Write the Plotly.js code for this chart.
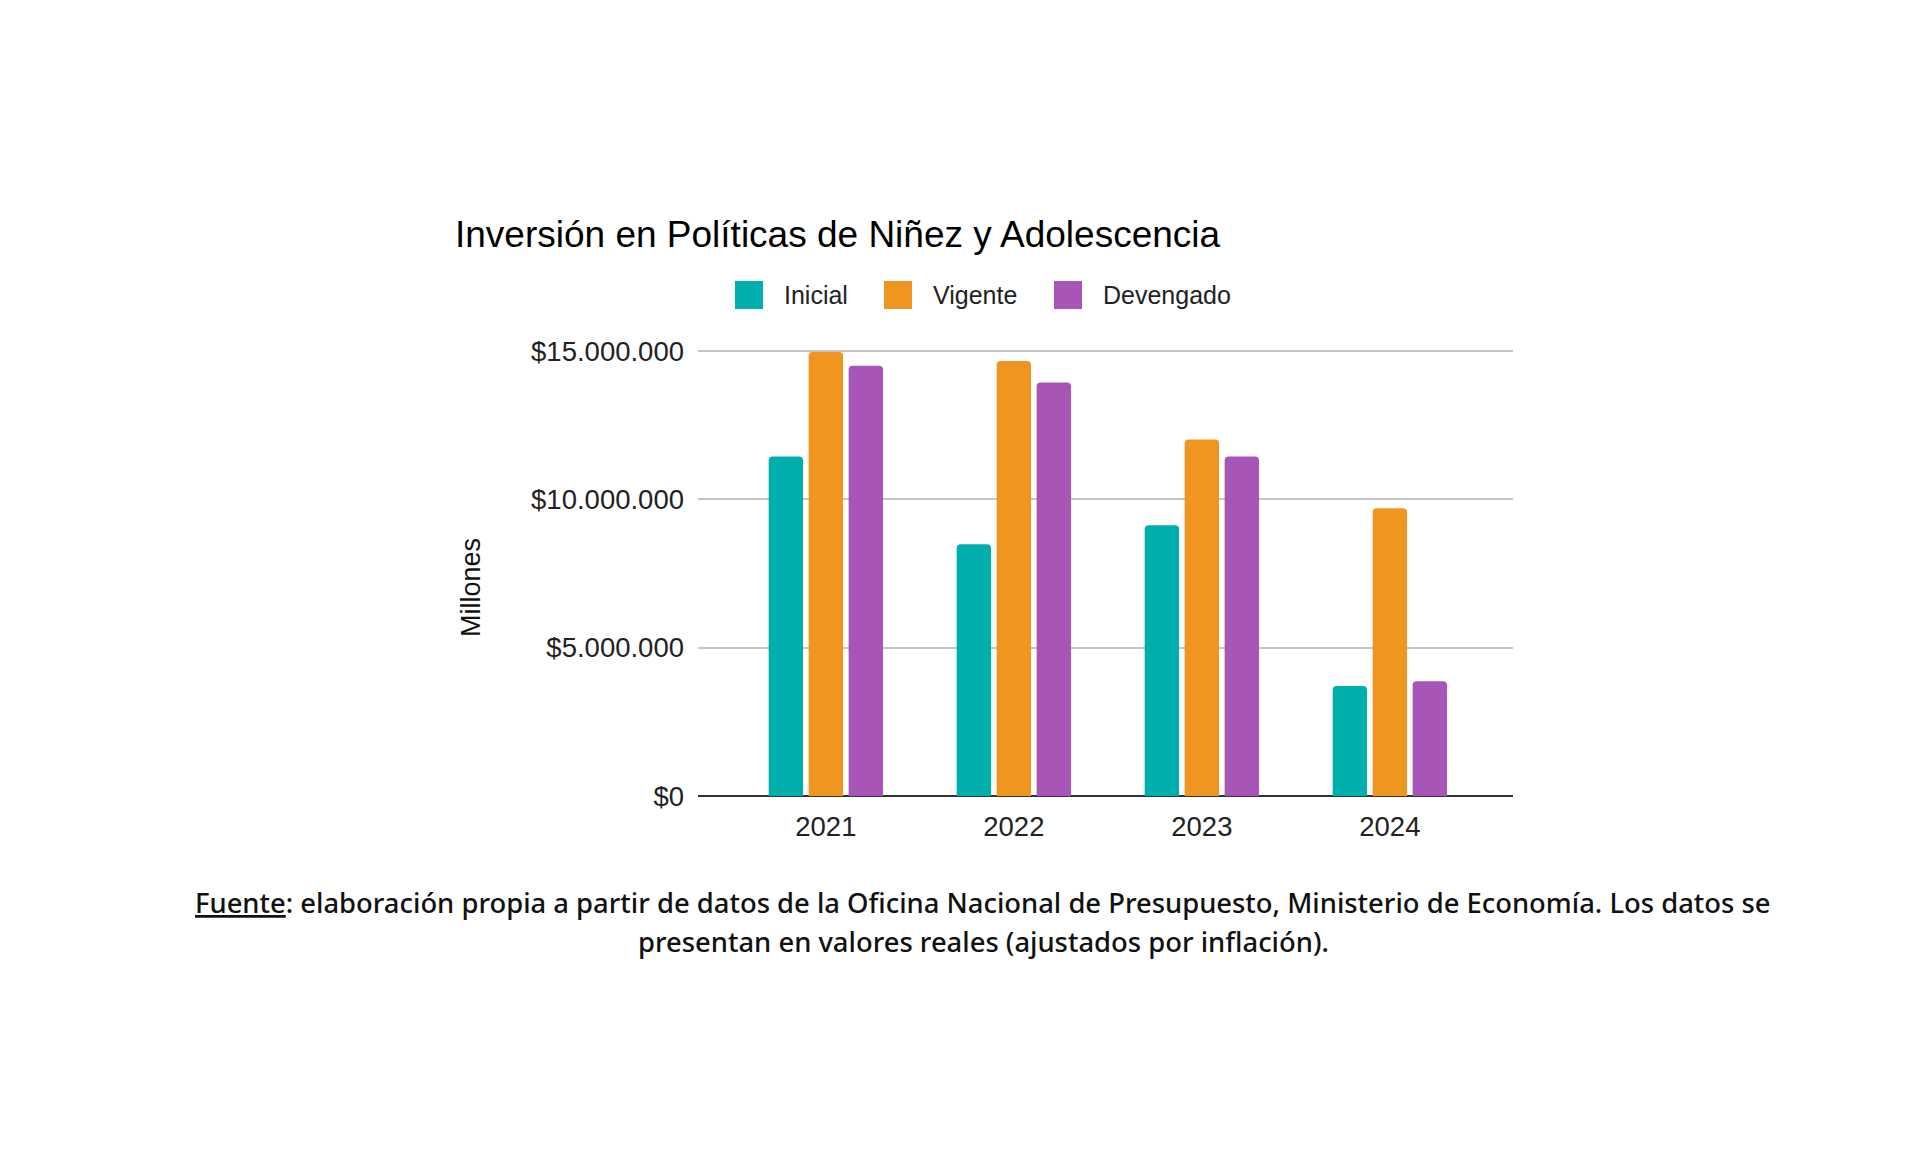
<!DOCTYPE html>
<html>
<head>
<meta charset="utf-8">
<script src="https://cdn.plot.ly/plotly-3.0.1.min.js"></script>
<style>
  html, body { margin: 0; padding: 0; background: #ffffff; }
  #chart { width: 1920px; height: 1167px; }
</style>
</head>
<body>
<div id="chart"></div>
<script>
// ---- Data ----
const years = ['2021', '2022', '2023', '2024'];
const inicial = [11440000, 8490000, 9130000, 3710000];
const vigente = [14970000, 14660000, 12020000, 9700000];
const devengado = [14500000, 13940000, 11440000, 3870000];
const seriesNames = ['Inicial', 'Vigente', 'Devengado'];
const yTickVals = [0, 5000000, 10000000, 15000000];
const yTickText = ['$0', '$5.000.000', '$10.000.000', '$15.000.000'];
const chartTitle = 'Inversión en Políticas de Niñez y Adolescencia';
const yTitle = 'Millones';
const noteLine1 = '<u>Fuente</u>: elaboración propia a partir de datos de la Oficina Nacional de Presupuesto, Ministerio de Economía. Los datos se';
const noteLine2 = 'presentan en valores reales (ajustados por inflación).';

// ---- Styles / layout ----
const colors = ['#00AFAC', '#F0951F', '#A855B8'];
const W = 1920, Hh = 1167;
const L = 698, R = 407, T = 348, Bm = 371;
const PW = W - L - R, PH = Hh - T - Bm;
const bottomPx = Hh - Bm;
const pxPerUnit = 445 / 15000000;          // 15M spans 445 px
const yMax = PH / pxPerUnit;                // small headroom so the top gridline is drawn
const px2x = px => (px - L) / PW;
const py2y = py => (bottomPx - py) / PH;
const baseFont = 'Liberation Sans, Arial, sans-serif';

const seriesValues = [inicial, vigente, devengado];
const traces = seriesValues.map((vals, i) => ({
  type: 'bar',
  name: seriesNames[i],
  x: years,
  y: vals,
  marker: { color: colors[i], line: { width: 0 }, cornerradius: 4 },
  showlegend: false,
  hoverinfo: 'skip'
}));

// Manual legend (large square swatches)
const legendLeft = [735, 884, 1054];
const sw = 28, legendCy = 295;
const shapes = [];
const annotations = [];
seriesNames.forEach((n, i) => {
  shapes.push({
    type: 'rect', xref: 'paper', yref: 'paper',
    x0: px2x(legendLeft[i]), x1: px2x(legendLeft[i] + sw),
    y0: py2y(legendCy + sw / 2), y1: py2y(legendCy - sw / 2),
    fillcolor: colors[i], line: { width: 0 }, layer: 'above'
  });
  annotations.push({
    xref: 'paper', yref: 'paper',
    x: px2x(legendLeft[i] + 47), y: py2y(legendCy),
    xanchor: 'left', yanchor: 'middle', showarrow: false,
    text: n, font: { family: baseFont, size: 25, color: '#222222' }
  });
});

// y-axis title
annotations.push({
  xref: 'paper', yref: 'paper',
  x: px2x(471), y: py2y(588),
  xanchor: 'center', yanchor: 'middle', showarrow: false,
  textangle: -90, text: yTitle,
  font: { family: baseFont, size: 27, color: '#111111' }
});

// Footnote
const noteFont = { family: 'Noto Sans, sans-serif', size: 27.4, color: '#111111', weight: 500 };
annotations.push({
  xref: 'paper', yref: 'paper', x: px2x(983), y: py2y(902),
  xanchor: 'center', yanchor: 'middle', showarrow: false,
  text: noteLine1, font: noteFont
});
annotations.push({
  xref: 'paper', yref: 'paper', x: px2x(983), y: py2y(941),
  xanchor: 'center', yanchor: 'middle', showarrow: false,
  text: noteLine2, font: noteFont
});

const layout = {
  width: W, height: Hh,
  margin: { l: L, r: R, t: T, b: Bm, pad: 0 },
  paper_bgcolor: '#ffffff', plot_bgcolor: '#ffffff',
  title: {
    text: chartTitle,
    xref: 'container', yref: 'container',
    x: 455 / W, xanchor: 'left',
    y: 1 - 234 / Hh, yanchor: 'middle',
    font: { family: baseFont, size: 37, color: '#000000' }
  },
  barmode: 'group',
  bargap: 0.362,
  bargroupgap: 0.14,
  showlegend: false,
  xaxis: {
    type: 'category',
    range: [-0.68, 3.655],
    showgrid: false, zeroline: false, showline: false,
    ticks: '', ticklabelstandoff: 11,
    tickfont: { family: baseFont, size: 27.5, color: '#222222' },
    fixedrange: true
  },
  yaxis: {
    range: [0, yMax],
    tickvals: yTickVals, ticktext: yTickText,
    showgrid: true, gridcolor: '#c6c6c6', gridwidth: 2,
    zeroline: true, zerolinecolor: '#333333', zerolinewidth: 2,
    showline: false, ticks: '', ticklabelstandoff: 13,
    tickfont: { family: baseFont, size: 27.5, color: '#222222' },
    fixedrange: true
  },
  shapes: shapes,
  annotations: annotations,
  hovermode: false
};

Plotly.newPlot('chart', traces, layout, { displayModeBar: false, staticPlot: true });
</script>
</body>
</html>
